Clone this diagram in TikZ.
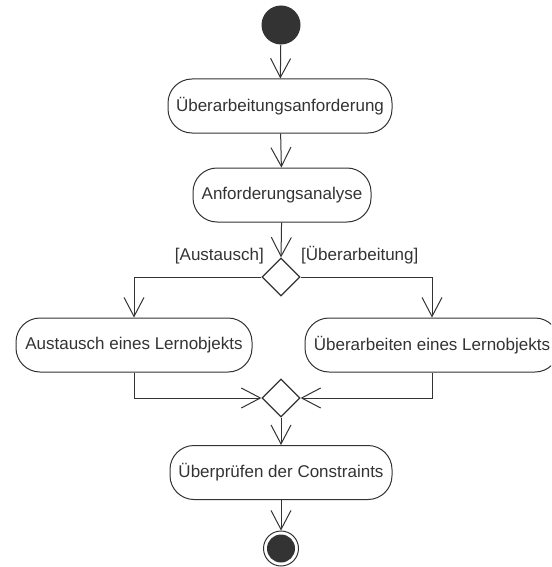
\documentclass[tikz,border=0pt]{standalone}
\usepackage{fontspec}
\setmainfont{Liberation Sans}
\usetikzlibrary{arrows.meta,shapes.geometric}
\definecolor{ink}{HTML}{333333}
\begin{document}
\begin{tikzpicture}[x=1pt,y=-1pt,
  every node/.style={font=\fontsize{17}{20}\selectfont, text=ink},
  action/.style={draw=ink, line width=1pt, rectangle, rounded corners=24pt,
    minimum height=54pt, inner sep=0pt},
  choice/.style={draw=ink, line width=1.2pt, diamond, minimum width=38pt,
    minimum height=38pt, inner sep=0pt},
  flow/.style={draw=ink, line width=1pt,
    -{Straight Barb[length=19pt, width=20pt, line width=1pt]}},
  guard/.style={inner sep=0pt}]
\useasboundingbox (0,0) rectangle (551,567);
\begin{scope}
\clip (0,0) rectangle (551,567);
% start and end states
\node[circle, fill=ink, minimum size=39pt, inner sep=0pt] (start) at (281,25) {};
\node[circle, draw=ink, line width=1pt, minimum size=35pt, inner sep=0pt,
  path picture={\fill[ink] (path picture bounding box.center) circle (14pt);}]
  (end) at (281,548.5) {};
% actions
\node[action, minimum width=224pt] (b1) at (280,106) {Überarbeitungsanforderung};
\node[action, minimum width=178pt] (b2) at (282,195) {Anforderungsanalyse};
\node[action, minimum width=236pt] (b3) at (134,345) {Austausch eines Lernobjekts};
\node[action, minimum width=254pt] (b4) at (432,345) {Überarbeiten eines Lernobjekts};
\node[action, minimum width=222pt] (b5) at (281,472.5) {Überprüfen der Constraints};
% decision and merge
\node[choice] (dec) at (281,277) {};
\node[choice] (join) at (281,398) {};
% guards
\node[guard, anchor=base east] (g1) at (264,260) {[Austausch]};
\node[guard, anchor=base west] (g2) at (301,260) {[Überarbeitung]};
% control flow
\draw[flow] (start) -- (b1);
\draw[flow] (b1) -- (b2);
\draw[flow] (b2) -- (dec.north);
\draw[flow] (dec.west) -| (b3.north);
\draw[flow] (dec.east) -| (b4.north);
\draw[flow] (b3.south) |- (join.west);
\draw[flow] (b4.south) |- (join.east);
\draw[flow] (join.south) -- (b5);
\draw[flow] (b5) -- (end);
\end{scope}
\end{tikzpicture}
\end{document}
